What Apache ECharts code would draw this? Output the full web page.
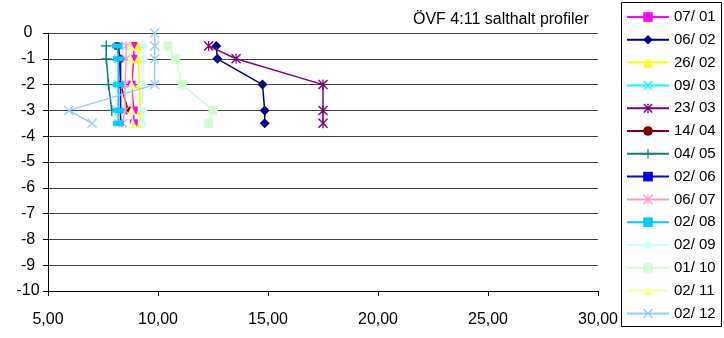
<!DOCTYPE html>
<html><head><meta charset="utf-8">
<script src="https://cdn.jsdelivr.net/npm/echarts@6/dist/echarts.min.js"></script>
<style>html,body{margin:0;padding:0;background:#fff}#c{width:724px;height:338px}</style>
</head><body><div id="c"></div>
<script>
// ---- data ----
const seriesNames = ['07/ 01','06/ 02','26/ 02','09/ 03','23/ 03','14/ 04','04/ 05','02/ 06','06/ 07','02/ 08','02/ 09','01/ 10','02/ 11','02/ 12'];
const depthStd   = [-0.5, -1, -2, -3, -3.5];
const depthShort = [-0.5, -1, -2, -3];
const depth0212  = [0, -0.5, -1, -2, -3, -3.5];
const v0701 = [8.9, 8.9, 8.8, 8.9, 8.9];
const v0602 = [12.65, 12.7, 14.75, 14.85, 14.85];
const v2602 = [9.1, 9.1, 9.15, 9.2, 9.2];
const v0903 = [8.2, 8.2, 8.2, 8.2, 8.2];
const v2303 = [12.3, 13.55, 17.5, 17.5, 17.5];
const v1404 = [8.15, 8.3, 8.3, 8.65];
const v0405 = [7.65, 7.65, 7.75, 7.9];
const v0206 = [8.2, 8.25, 8.3, 8.3, 8.3];
const v0607 = [8.55, 8.55, 8.5, 8.5, 8.4];
const v0208 = [8.15, 8.2, 8.2, 8.2, 8.2];
const v0209 = [9.35, 9.35, 9.3, 9.3, 9.3];
const v0110 = [10.45, 10.8, 11.1, 12.5, 12.3];
const v0211 = [8.75, 8.75, 8.8, 8.8, 8.85];
const v0212 = [9.85, 9.85, 9.85, 9.85, 5.95, 7.0];
const xTicks = [5, 10, 15, 20, 25, 30];
const yTicks = [0, -1, -2, -3, -4, -5, -6, -7, -8, -9, -10];
const titleText = 'ÖVF 4:11 salthalt profiler';

// ---- styling ----
const X_PATH = 'path://M1,0L5,4L9,0L10,1L6,5L10,9L9,10L5,6L1,10L0,9L4,5L0,1Z';
const STAR_PATH = 'path://M1,0L5,4L9,0L10,1L6,5L10,9L9,10L5,6L1,10L0,9L4,5L0,1ZM4.4,0L5.6,0L5.6,10L4.4,10Z';
const PLUS_PATH = 'path://M4.4,0H5.6V4.4H10V5.6H5.6V10H4.4V5.6H0V4.4H4.4Z';
const specs = [
  {v: v0701, d: depthStd,   color: '#ff00ff', symbol: 'rect',     size: 8},
  {v: v0602, d: depthStd,   color: '#000080', symbol: 'diamond',  size: 10},
  {v: v2602, d: depthStd,   color: '#ffff00', symbol: 'triangle', size: 9},
  {v: v0903, d: depthStd,   color: '#00ffff', symbol: X_PATH,     size: 9},
  {v: v2303, d: depthStd,   color: '#800080', symbol: STAR_PATH,  size: 10},
  {v: v1404, d: depthShort, color: '#800000', symbol: 'circle',   size: 8},
  {v: v0405, d: depthShort, color: '#008080', symbol: PLUS_PATH,  size: 11},
  {v: v0206, d: depthStd,   color: '#0000ff', symbol: 'rect',     size: 5},
  {v: v0607, d: depthStd,   color: '#ff99cc', symbol: STAR_PATH,  size: 9},
  {v: v0208, d: depthStd,   color: '#00ccff', symbol: 'rect',     size: [11, 5]},
  {v: v0209, d: depthStd,   color: '#ccffff', symbol: 'diamond',  size: 10},
  {v: v0110, d: depthStd,   color: '#ccffcc', symbol: 'rect',     size: 9},
  {v: v0211, d: depthStd,   color: '#ffff99', symbol: 'triangle', size: 9},
  {v: v0212, d: depth0212,  color: '#99ccff', symbol: X_PATH,     size: 10}
];
const FONT = 'Liberation Sans, Arial, sans-serif';

const series = specs.map((s, i) => ({
  name: seriesNames[i],
  type: 'line',
  data: s.v.map((x, k) => [x, s.d[k]]),
  symbol: s.symbol,
  symbolSize: s.size,
  showAllSymbol: true,
  lineStyle: {color: s.color, width: 1.5},
  itemStyle: {color: s.color},
  animation: false,
  z: 2 + i
}));

const chart = echarts.init(document.getElementById('c'), null, {renderer: 'canvas'});
chart.setOption({
  animation: false,
  backgroundColor: '#fff',
  title: {text: titleText, left: 408, top: 7, padding: 5, textStyle: {fontFamily: FONT, fontSize: 16, fontWeight: 'normal', color: '#000'}},
  grid: {left: 48, right: 126, top: 33, bottom: 47, containLabel: false},
  xAxis: {
    type: 'value', min: xTicks[0], max: xTicks[xTicks.length - 1], interval: 5,
    axisLine: {onZero: false, lineStyle: {color: '#000', width: 1}},
    axisTick: {show: true, inside: false, length: 5, lineStyle: {color: '#000'}},
    splitLine: {show: false},
    axisLabel: {margin: 21, color: '#000', fontFamily: FONT, fontSize: 16,
      formatter: v => v.toFixed(2).replace('.', ',')}
  },
  yAxis: {
    type: 'value', min: yTicks[yTicks.length - 1], max: yTicks[0], interval: 1,
    axisLine: {show: true, onZero: false, lineStyle: {color: '#000', width: 1}},
    axisTick: {show: true, inside: false, length: 5, lineStyle: {color: '#000'}},
    splitLine: {show: true, lineStyle: {color: '#404040', width: 1}},
    axisLabel: {margin: 20, align: 'center', color: '#000', fontFamily: FONT, fontSize: 16}
  },
  legend: {
    orient: 'vertical', left: 621, top: 4.5,
    itemWidth: 42, itemHeight: 12, itemGap: 7.8,
    textStyle: {fontFamily: FONT, fontSize: 15, color: '#000', lineHeight: 15},
    data: seriesNames
  },
  graphic: [{type: 'rect', shape: {x: 621.5, y: 2.5, width: 100, height: 324}, style: {fill: 'none', stroke: '#000', lineWidth: 1}, z: 0, silent: true}],
  series: series
});
</script></body></html>
